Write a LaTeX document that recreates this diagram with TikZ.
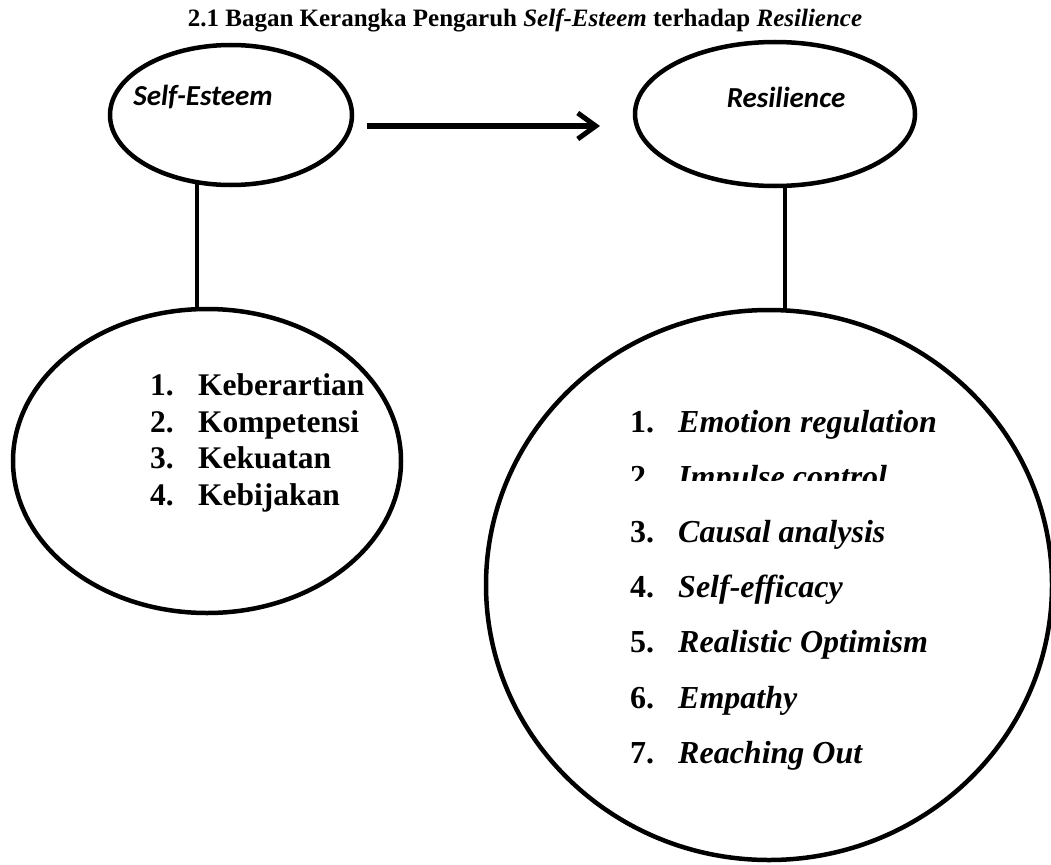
\documentclass[tikz,border=0pt]{standalone}
\usepackage{fontspec}
\setmainfont{Liberation Serif}
\newfontfamily\carlito{Carlito}
\usetikzlibrary{shapes.geometric,arrows.meta}
\begin{document}
\begin{tikzpicture}[x=1pt,y=-1pt,
  oval/.style={draw, ellipse, line width=4.5pt, inner sep=0pt},
  conn/.style={line width=4pt},
  head/.style={font=\carlito\bfseries\itshape\fontsize{29}{34}\selectfont, inner sep=0pt},
  itm/.style={anchor=base west, font=\bfseries\fontsize{31.5}{36}\selectfont, inner sep=0pt},
  ritm/.style={anchor=base west, font=\bfseries\fontsize{32}{36}\selectfont, inner sep=0pt},
  titlestyle/.style={font=\bfseries\fontsize{25}{28}\selectfont, anchor=base, inner sep=0pt},
]
\useasboundingbox (0,0) rectangle (1051,864);
\node[titlestyle] (title) at (525,27) {2.1 Bagan Kerangka Pengaruh \textit{Self-Esteem} terhadap \textit{Resilience}};

% top ellipses
\node[oval, minimum width=242pt, minimum height=140pt] (se) at (231,115) {};
\node[head] (setext) at (203,97) {Self-Esteem};
\node[oval, minimum width=280pt, minimum height=144pt] (res) at (775,114) {};
\node[head] (restext) at (786,97) {Resilience};

% arrow
\coordinate (a1) at (367,126);
\coordinate (a2) at (600,126);
\draw[line width=5pt, -{Straight Barb[length=18pt,width=26pt]}] (a1) -- (a2);

% big ellipses
\node[oval, minimum width=388pt, minimum height=304pt] (seb) at (207,461) {};
\node[oval, minimum width=566pt, minimum height=550pt] (resb) at (769,585) {};

% connectors
\coordinate (lx) at (197,0);
\coordinate (rx) at (785,0);
\draw[conn] ([yshift=3pt]se.south -| lx) -- ([yshift=-1pt]seb.north -| lx);
\draw[conn] (res.south -| rx) -- ([yshift=-1pt]resb.north -| rx);

% left list
\node[itm] (l1n) at (150,395) {1.}; \node[itm] (l1) at (198,395) {Keberartian};
\node[itm] (l2n) at (150,432) {2.}; \node[itm] (l2) at (198,432) {Kompetensi};
\node[itm] (l3n) at (150,468) {3.}; \node[itm] (l3) at (198,468) {Kekuatan};
\node[itm] (l4n) at (150,505) {4.}; \node[itm] (l4) at (198,505) {Kebijakan};

% right list
\node[ritm] (r1n) at (630,432) {1.}; \node[ritm] (r1) at (678,432) {\textit{Emotion regulation}};
\begin{scope}
\clip (600,440) rectangle (1000,480);
\node[ritm] (r2n) at (630,487) {2.}; \node[ritm] (r2) at (678,487) {\textit{Impulse control}};
\end{scope}
\node[ritm] (r3n) at (630,542) {3.}; \node[ritm] (r3) at (678,542) {\textit{Causal analysis}};
\node[ritm] (r4n) at (630,597) {4.}; \node[ritm] (r4) at (678,597) {\textit{Self-efficacy}};
\node[ritm] (r5n) at (630,652) {5.}; \node[ritm] (r5) at (678,652) {\textit{Realistic Optimism}};
\node[ritm] (r6n) at (630,708) {6.}; \node[ritm] (r6) at (678,708) {\textit{Empathy}};
\node[ritm] (r7n) at (630,763) {7.}; \node[ritm] (r7) at (678,763) {\textit{Reaching Out}};
\end{tikzpicture}
\end{document}
